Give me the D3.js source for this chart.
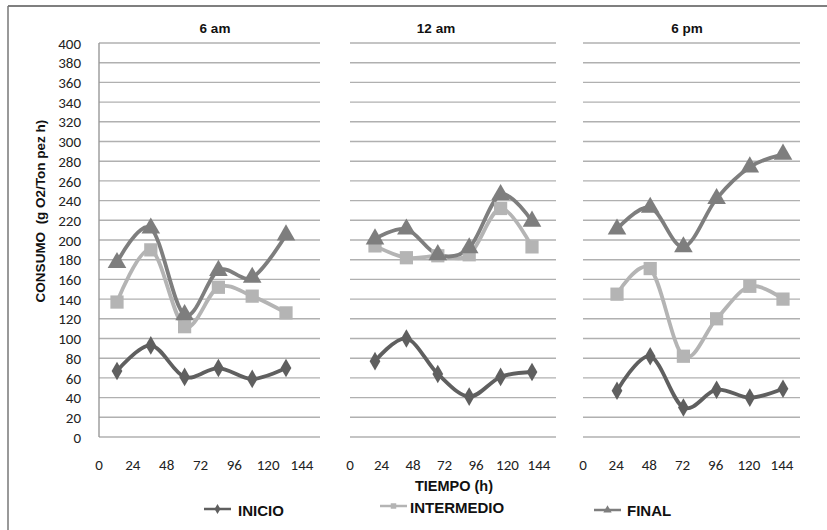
<!DOCTYPE html>
<html>
<head>
<meta charset="utf-8">
<script src="https://cdn.jsdelivr.net/npm/d3@7"></script>
<style>
  html, body { margin: 0; padding: 0; background: #fff; }
  svg { display: block; }
  .tick-num { font-family: Carlito, Lato, "Liberation Sans", sans-serif; font-size: 15px; fill: #222; }
  .bold { font-family: "Liberation Sans", Arial, sans-serif; font-weight: bold; fill: #111; white-space: pre; }
</style>
</head>
<body>
<svg id="chart" width="827" height="530"></svg>
<script>
// Oxygen consumption at three times of day, sampled every 24 h
const panels = ["6 am", "12 am", "6 pm"];
const samples = ["t1", "t2", "t3", "t4", "t5", "t6"];
const xTickLabels = ["0", "24", "48", "72", "96", "120", "144"];
const yTicks = d3.range(0, 401, 20);
const seriesNames = ["INICIO", "INTERMEDIO", "FINAL"];

const inicio = [
  [67, 93, 61, 70, 59, 70],
  [77, 100, 64, 41, 61, 66],
  [47, 82, 30, 48, 40, 49]
];
const intermedio = [
  [137, 190, 112, 152, 143, 126],
  [194, 182, 184, 185, 232, 193],
  [145, 171, 82, 120, 153, 140]
];
const final = [
  [177, 212, 124, 169, 162, 205],
  [201, 211, 185, 192, 246, 219],
  [211, 233, 193, 242, 274, 287]
];

const seriesColors = ["#5f5f5f", "#b4b4b4", "#7e7e7e"];
const seriesShapes = [d3.symbolDiamond, d3.symbolSquare, d3.symbolTriangle];
const seriesSizes = [100, 175, 150];
const seriesData = [inicio, intermedio, final];

// layout of each small multiple
const layout = [
  { grid: [99, 320], pts: [117, 286], labels: [99, 302], title: 215 },
  { grid: [350, 556], pts: [375, 532], labels: [350, 539], title: 436 },
  { grid: [583, 800], pts: [617, 783], labels: [583, 782], title: 687 }
];

const svg = d3.select("#chart");
const y = d3.scaleLinear().domain([0, 400]).range([437, 43]);

// outer frame (top and left edges)
svg.append("line").attr("x1", 8).attr("x2", 827).attr("y1", 6).attr("y2", 6)
  .attr("stroke", "#555").attr("stroke-width", 1.5);
svg.append("line").attr("x1", 8).attr("x2", 8).attr("y1", 6).attr("y2", 530)
  .attr("stroke", "#777").attr("stroke-width", 1.5);

// y axis ticks (left panel only)
const yAxis = d3.axisLeft(y).tickValues(yTicks).tickSize(0).tickPadding(0);
const yG = svg.append("g").attr("transform", "translate(81,0)").call(yAxis);
yG.select(".domain").remove();
yG.selectAll("text").attr("class", "tick-num").attr("fill", "#222").attr("dy", "0.34em")
  .style("font-family", "Carlito, Lato, 'Liberation Sans', sans-serif").style("font-size", "15px");

svg.append("text").attr("class", "bold")
  .attr("transform", "translate(45,211) rotate(-90)")
  .attr("text-anchor", "middle").style("font-size", "13.5px")
  .text("CONSUMO  (g O2/Ton pez h)");

layout.forEach((L, p) => {
  const g = svg.append("g");
  // horizontal gridlines
  g.selectAll("line.grid").data(yTicks).join("line")
    .attr("x1", L.grid[0]).attr("x2", L.grid[1])
    .attr("y1", d => y(d)).attr("y2", d => y(d))
    .attr("stroke", "#b0b0b0").attr("stroke-width", 1.4);
  if (p === 0) {
    g.append("line").attr("x1", L.grid[0]).attr("x2", L.grid[0])
      .attr("y1", y(400)).attr("y2", y(0)).attr("stroke", "#999").attr("stroke-width", 1.4);
  }
  // title
  g.append("text").attr("class", "bold").attr("x", L.title).attr("y", 33)
    .attr("text-anchor", "middle").style("font-size", "13.5px").text(panels[p]);

  // x tick labels
  const xl = d3.scalePoint().domain(xTickLabels).range(L.labels);
  g.selectAll("text.xl").data(xTickLabels).join("text")
    .attr("class", "tick-num").attr("x", d => xl(d)).attr("y", 470)
    .attr("text-anchor", "middle").text(d => d);

  // series
  const x = d3.scalePoint().domain(samples).range(L.pts);
  const line = d3.line().x((d, i) => x(samples[i])).y(d => y(d)).curve(d3.curveCardinal);
  [1, 2, 0].forEach(s => {
    const vals = seriesData[s][p];
    g.append("path").attr("d", line(vals)).attr("fill", "none")
      .attr("stroke", seriesColors[s]).attr("stroke-width", 3.8)
      .attr("stroke-linejoin", "round");
  });
  [1, 2, 0].forEach(s => {
    const vals = seriesData[s][p];
    const sym = d3.symbol().type(seriesShapes[s]).size(seriesSizes[s]);
    g.selectAll(null).data(vals).join("path")
      .attr("d", sym)
      .attr("transform", (d, i) => `translate(${x(samples[i])},${y(d)})`)
      .attr("fill", seriesColors[s]);
  });
});

// x axis title
svg.append("text").attr("class", "bold").attr("x", 454).attr("y", 491)
  .attr("text-anchor", "middle").style("font-size", "14.5px").text("TIEMPO (h)");

// legend
const legendPos = [
  { x: 204, y: 509, tx: 238, ty: 516 },
  { x: 380, y: 506, tx: 410, ty: 513 },
  { x: 594, y: 510, tx: 627, ty: 516 }
];
seriesNames.forEach((name, s) => {
  const P = legendPos[s];
  svg.append("line").attr("x1", P.x).attr("x2", P.x + 27).attr("y1", P.y).attr("y2", P.y)
    .attr("stroke", seriesColors[s]).attr("stroke-width", 2.5);
  svg.append("path").attr("d", d3.symbol().type(seriesShapes[s]).size(30)())
    .attr("transform", `translate(${P.x + 13.5},${P.y})`).attr("fill", seriesColors[s]);
  svg.append("text").attr("class", "bold").attr("x", P.tx).attr("y", P.ty)
    .style("font-size", "15px").text(name);
});
</script>
</body>
</html>
